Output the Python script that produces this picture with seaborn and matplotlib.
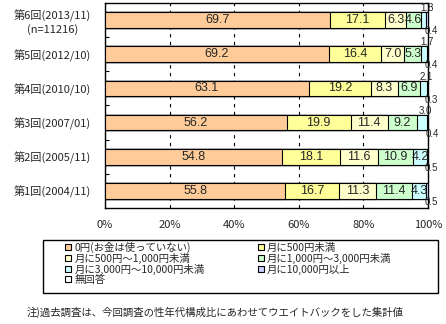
import matplotlib
matplotlib.use("Agg")
import matplotlib.pyplot as plt
from matplotlib.patches import Patch, Rectangle
import numpy as np
import pandas as pd
import seaborn as sns

surveys = ['第6回(2013/11)', '第5回(2012/10)', '第4回(2010/10)',
           '第3回(2007/01)', '第2回(2005/11)', '第1回(2004/11)']
tick_labels = ['第6回(2013/11)\n(n=11216)', '第5回(2012/10)', '第4回(2010/10)',
               '第3回(2007/01)', '第2回(2005/11)', '第1回(2004/11)']
categories = ['0円(お金は使っていない)', '月に500円未満', '月に500円～1,000円未満',
              '月に1,000円～3,000円未満', '月に3,000円～10,000円未満',
              '月に10,000円以上', '無回答']
v_zero = [69.7, 69.2, 63.1, 56.2, 54.8, 55.8]
v_lt500 = [17.1, 16.4, 19.2, 19.9, 18.1, 16.7]
v_500_1000 = [6.3, 7.0, 8.3, 11.4, 11.6, 11.3]
v_1000_3000 = [4.6, 5.3, 6.9, 9.2, 10.9, 11.4]
v_3000_10000 = [1.8, 1.7, 2.1, 3.0, 4.2, 4.3]
v_10000 = [0.4, 0.4, 0.3, 0.4, 0.5, 0.5]
v_na = [0.0, 0.0, 0.0, 0.0, 0.0, 0.0]
x_ticks = [0, 20, 40, 60, 80, 100]
x_tick_labels = ['0%', '20%', '40%', '60%', '80%', '100%']
note = '注)過去調査は、今回調査の性年代構成比にあわせてウエイトバックをした集計値'

colors = ['#FFCC99', '#FFFF99', '#FFFFCC', '#CCFFCC', '#CCFFFF', '#CCCCFF', '#FFFFFF']

sns.set_theme(style='white')
plt.rcParams['font.family'] = ['Noto Sans CJK JP', 'DejaVu Sans']
num_font = ['Liberation Sans Narrow', 'Liberation Sans', 'DejaVu Sans']

series = [v_zero, v_lt500, v_500_1000, v_1000_3000, v_3000_10000, v_10000, v_na]
vals = np.array(series)
cum = np.cumsum(vals, axis=0)

fig = plt.figure(figsize=(4.46, 3.24), dpi=100)
ax = fig.add_axes([105/446, 1-208/324, 323/446, 205/324])

bw = 0.46
for i in reversed(range(len(series))):
    df = pd.DataFrame({'survey': surveys, 'end': cum[i]})
    sns.barplot(data=df, x='end', y='survey', order=surveys, color=colors[i],
                saturation=1, width=bw, edgecolor='black', linewidth=0.8,
                orient='h', ax=ax, zorder=3)

px = 1 / (205 / 6)  # one pixel in y data units
for j in range(len(surveys)):
    for i in range(6):
        v = vals[i, j]
        start = cum[i, j] - v
        xc = start + v / 2
        if i == 5:
            ax.text(xc + 1.3, j + bw/2 - 1.7*px, f'{v:.1f}', ha='center', va='top',
                    fontsize=7, family=num_font, zorder=5)
        elif i == 4 and v < 4:
            ax.text(xc + 1.0, j - bw/2 - 1.0*px, f'{v:.1f}', ha='center', va='baseline',
                    fontsize=7, family=num_font, zorder=5)
        else:
            ax.text(xc, j, f'{v:.1f}', ha='center', va='center',
                    fontsize=9, family=num_font, zorder=5)

ax.set_xlim(0, 100)
ax.set_ylim(len(surveys) - 0.5, -0.5)
ax.set_xticks(x_ticks)
ax.set_xticklabels(x_tick_labels, fontsize=8)
ax.set_yticks(range(len(surveys)))
ax.set_yticklabels(tick_labels, fontsize=8, multialignment='center')
ax.set_xlabel('')
ax.set_ylabel('')
ax.tick_params(axis='x', length=0, pad=9)
ax.tick_params(axis='y', which='major', length=0, pad=10)
ax.set_yticks(np.arange(0.5, len(surveys) - 0.5, 1), minor=True)
ax.tick_params(axis='y', which='minor', direction='in', length=3, width=0.8, color='black', left=True)
ax.xaxis.grid(True, linestyle=(0, (3, 4)), color='black', linewidth=0.8, zorder=0)
ax.yaxis.grid(False)
ax.set_axisbelow(True)
for s in ax.spines.values():
    s.set_color('black')
    s.set_linewidth(1)
    s.set_visible(True)

handles = [Patch(facecolor=c, edgecolor='black', linewidth=0.8, label=l)
           for c, l in zip(colors, categories)]
order = [0, 2, 4, 6, 1, 3, 5]
fig.legend([handles[k] for k in order], [categories[k] for k in order],
           loc='upper left', bbox_to_anchor=(65/446, 1-241.5/324), ncol=2,
           frameon=False, fontsize=7.5, handlelength=0.6, handleheight=0.6,
           handletextpad=0.3, labelspacing=0.0, columnspacing=5.1,
           borderpad=0, borderaxespad=0)
fig.add_artist(Rectangle((43/446, 1-293/324), 395/446, 53/324,
                         transform=fig.transFigure, fill=False,
                         edgecolor='black', linewidth=1))
fig.text(27/446, 1-312/324, note, fontsize=7.5, va='center', ha='left')

fig.savefig('out.png', dpi=100)
